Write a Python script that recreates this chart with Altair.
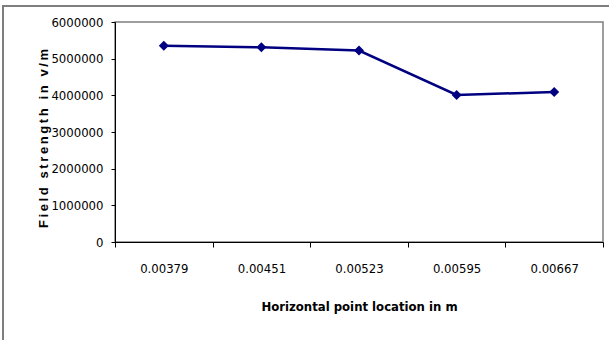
import altair as alt
import pandas as pd

# Horizontal point locations (m) and field strength (V/m) at each point
locations = ["0.00379", "0.00451", "0.00523", "0.00595", "0.00667"]
field_strength = [5350000, 5310000, 5220000, 4010000, 4090000]

df = pd.DataFrame({"location": locations, "field": field_strength})

NAVY = "#000080"
LABEL_FONT = "DejaVu Sans Condensed, Liberation Sans, sans-serif"

# letter-spaced vertical title
y_title = "\u2009".join("Field strength in v/m")

x_enc = alt.X(
    "location:N",
    sort=locations,
    scale=alt.Scale(paddingInner=0, paddingOuter=0),
    axis=alt.Axis(
        title="Horizontal point location in m",
        labelAngle=0,
        tickBand="extent",
        tickSize=5,
        tickColor="black",
        domainColor="black",
        labelPadding=15,
        labelFont=LABEL_FONT,
        labelFontSize=13,
        labelColor="black",
        titleFont=LABEL_FONT,
        titleFontSize=13,
        titleFontWeight="bold",
        titleColor="black",
        titleBaseline="middle",
        titleY=64,
    ),
)

y_enc = alt.Y(
    "field:Q",
    scale=alt.Scale(domain=[0, 6000000], nice=False),
    axis=alt.Axis(
        title=y_title,
        values=[0, 1000000, 2000000, 3000000, 4000000, 5000000, 6000000],
        format="d",
        grid=False,
        tickSize=4,
        tickColor="black",
        domainColor="black",
        labelPadding=8,
        labelFont=LABEL_FONT,
        labelFontSize=13,
        labelColor="black",
        titleFont="Liberation Sans",
        titleFontSize=13,
        titleFontWeight="bold",
        titleColor="black",
        titleBaseline="middle",
        titleX=-72,
        titleY=116,
    ),
)

line = alt.Chart(df).mark_line(color=NAVY, strokeWidth=2.5).encode(x=x_enc, y=y_enc)
points = alt.Chart(df).mark_point(
    shape="diamond", filled=True, color=NAVY, size=100, opacity=1
).encode(x=x_enc, y=y_enc)

# outer chart-area frame
frame = alt.Chart(df).mark_rect(
    fill=None, stroke="#7f7f7f", strokeWidth=1.5
).encode(
    x=alt.value(-112), x2=alt.value(620),
    y=alt.value(-16), y2=alt.value(400),
)

chart = (
    alt.layer(frame, line, points)
    .properties(
        width=488,
        height=220,
        autosize=alt.AutoSizeParams(type="none"),
        padding={"left": 115, "top": 22, "right": 6, "bottom": 98},
        background="white",
    )
    .configure_view(stroke="#7f7f7f", strokeWidth=1.5)
)

chart.save("out.html", embed_options={"renderer": "svg", "actions": False})
